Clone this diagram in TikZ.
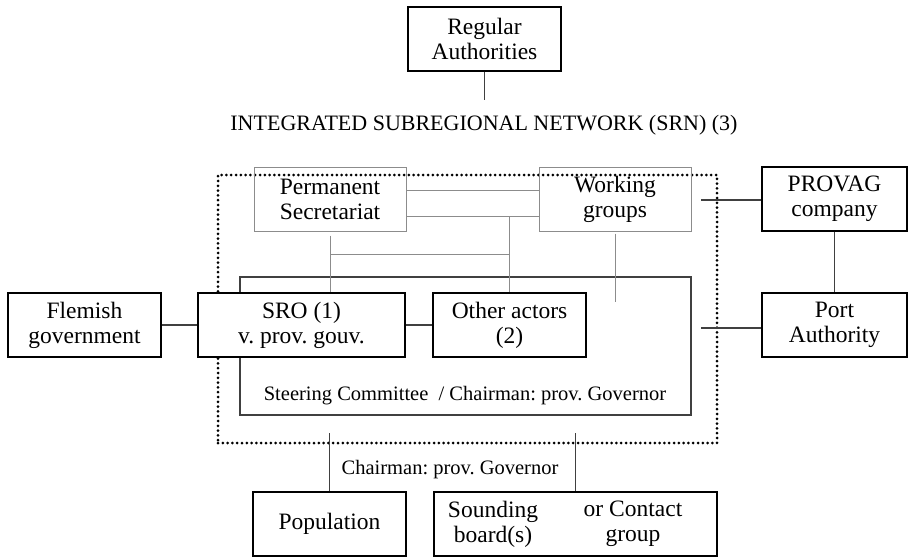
\documentclass[tikz,border=0pt]{standalone}
\usepackage{fontspec}
\setmainfont{Liberation Serif}
\frenchspacing
\begin{document}
\begin{tikzpicture}[x=1pt,y=-1pt,
  every node/.style={font=\fontsize{23.5}{25}\selectfont, align=center, inner sep=0pt},
  thickbox/.style={draw=black, line width=1.6pt, minimum height=64pt},
  graybox/.style={draw=black!45, line width=1pt, minimum height=64pt, minimum width=152pt},
  steerbox/.style={draw=black!75, line width=1.1pt},
  dotbox/.style={draw=black, line width=3pt, line cap=round, dash pattern=on 0pt off 4.8pt},
  link/.style={draw=black!75, line width=1.1pt},
  glink/.style={draw=black!45, line width=1pt},
  small/.style={font=\fontsize{20.5}{24}\selectfont},
]
\useasboundingbox (0,0) rectangle (909,559);
% outer dotted network
\node[dotbox, minimum width=499pt, minimum height=268pt] (srn) at (467.5,309) {};
\node[font=\fontsize{22}{24}\selectfont] (title) at (484,125) {INTEGRATED SUBREGIONAL NETWORK (SRN) (3)};
% steering committee
\node[steerbox, minimum width=451pt, minimum height=138pt] (sc) at (465.5,346) {};
\node[small] (sctext) at (465,396) {Steering Committee~~/ Chairman: prov. Governor};
% boxes
\node[thickbox, minimum width=153pt] (ra) at (484.5,39) {Regular\\Authorities};
\node[graybox] (ps) at (330,199) {Permanent\\Secretariat};
\node[graybox] (wg) at (615,199) {Working\\groups};
\node[thickbox, minimum width=207pt, fill=white] (sro) at (301.5,325) {SRO (1)\\v. prov. gouv.};
\node[thickbox, minimum width=153pt, fill=white] (oa) at (509.5,325) {Other actors\\(2)};
\node[thickbox, minimum width=153pt] (fg) at (84.5,325) {Flemish\\government};
\node[thickbox, minimum width=145pt] (pv) at (834.5,199) {PROVAG\\company};
\node[thickbox, minimum width=145pt] (pa) at (834.5,325) {Port\\Authority};
\node[thickbox, minimum width=153pt] (pop) at (329.5,524) {Population};
\node[thickbox, minimum width=283pt] (sb) at (575.5,524) {};
\node (sb1) at (493,524) {Sounding\\board(s)};
\node (sb2) at (633,524) {or Contact\\group};
\node[small] (chair) at (450,470) {Chairman: prov. Governor};
% free ends
\coordinate (raend) at (484.5,100);
\coordinate (wgend) at (615,302);
\coordinate (pvend) at (701,200);
\coordinate (paend) at (701,328);
\coordinate (popend) at (329.5,433);
\coordinate (sbend) at (575.5,433);
\coordinate (hl) at (330,254);
% connectors
\draw[link] (ra.south) -- (raend);
\draw[glink] ([yshift=9pt]ps.east) -- ([yshift=9pt]wg.west);
\draw[glink] ([yshift=-17pt]ps.east) -- ([yshift=-17pt]wg.west);
\draw[glink] ([yshift=-17pt]ps.east -| oa.north) -- (oa.north);
\draw[glink] ([yshift=-4pt]ps.south) -- (ps.south |- sro.north);
\draw[glink] (hl) -- (hl -| oa.north);
\draw[glink] ([yshift=-2pt]wg.south) -- (wgend);
\draw[link] (fg.east) -- (sro.west);
\draw[link] (sro.east) -- (oa.west);
\draw[link] (pvend) -- (pvend -| pv.west);
\draw[link] (paend) -- (paend -| pa.west);
\draw[link] (pv.south) -- (pa.north);
\draw[link] (popend) -- (pop.north);
\draw[link] (sbend) -- (sb.north);
\end{tikzpicture}
\end{document}
